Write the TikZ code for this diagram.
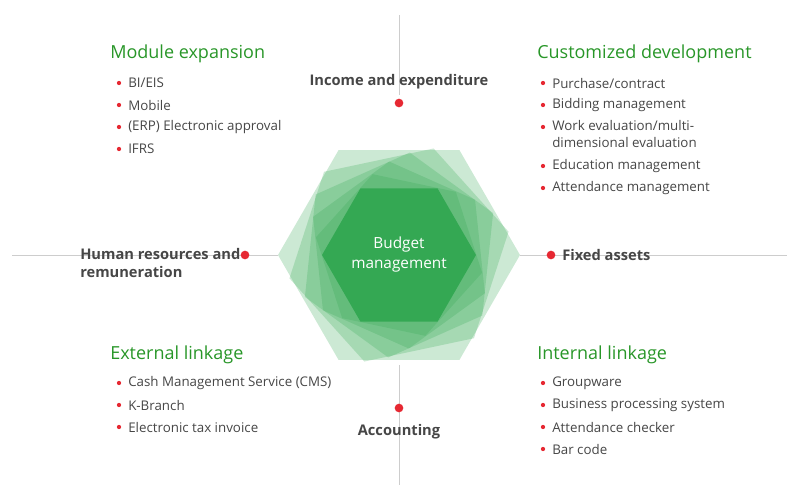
\documentclass[tikz,border=0pt]{standalone}
\usepackage{fontspec}
\setmainfont{Open Sans}
\definecolor{hexgreen}{RGB}{52,168,83}
\definecolor{headgreen}{RGB}{40,150,40}
\definecolor{dotred}{RGB}{230,40,50}
\definecolor{txtgray}{RGB}{70,70,70}
\definecolor{linegray}{RGB}{205,205,205}
\tikzset{
  heading/.style={anchor=west,text=headgreen,font=\fontsize{13.5}{16}\selectfont,inner sep=0pt},
  item/.style={anchor=west,text=txtgray,font=\fontsize{10}{13}\selectfont,inner sep=0pt,align=left},
  spoke/.style={text=txtgray,font=\fontsize{11}{13}\selectfont\bfseries,inner sep=0pt},
  reddot/.style={circle,fill=dotred,inner sep=0pt,minimum size=6.5pt},
  smalldot/.style={circle,fill=dotred,inner sep=0pt,minimum size=3.2pt},
}
\begin{document}
\begin{tikzpicture}[x=0.75pt,y=0.75pt,yscale=-1,xscale=1]
\useasboundingbox (0,0) rectangle (800,500);
%axes
\draw [linegray] (399,15) -- (399,95);
\draw [linegray] (399,365) -- (399,485);
\draw [linegray] (12,255) -- (278,255);
\draw [linegray] (520,255) -- (787,255);
%hexagons
\foreach \r/\a in {121/0,112/-12,103/-24,94/-36,85/-48} {
  \begin{scope}[shift={(399,255)},rotate=\a]
    \fill [hexgreen,fill opacity=0.25] (0:\r) -- (60:\r) -- (120:\r) -- (180:\r) -- (240:\r) -- (300:\r) -- cycle;
  \end{scope}
}
\begin{scope}[shift={(399,255)}]
  \fill [hexgreen] (0:77) -- (60:77) -- (120:77) -- (180:77) -- (240:77) -- (300:77) -- cycle;
\end{scope}
\node (centre) [white,font=\fontsize{11.5}{15}\selectfont,align=center] at (399,255) {Budget\\management};
%spokes
\node (income) [spoke] at (399,82) {Income and expenditure};
\node (incdot) [reddot] at (399,103) {};
\node (accounting) [spoke] at (399,432) {Accounting};
\node (accdot) [reddot] at (399,408) {};
\node (human) [spoke,anchor=west,align=left] at (80,263) {Human resources and\\remuneration};
\node (humdot) [reddot] at (245,255) {};
\node (fixed) [spoke,anchor=west] at (562,255) {Fixed assets};
\node (fixdot) [reddot] at (551,255) {};
%headings
\node (modexp) [heading] at (110,54) {Module expansion};
\node (custdev) [heading] at (537,54) {Customized development};
\node (extlink) [heading] at (110,355) {External linkage};
\node (intlink) [heading] at (537,355) {Internal linkage};
%lists
\foreach \y/\t in {83/{BI/EIS},105/Mobile,127/(ERP) Electronic approval,149/IFRS} {
  \node [smalldot] at (119,\y) {};
  \node [item] at (128,\y) {\t};
}
\foreach \y/\t in {83/{Purchase/contract},105/Bidding management,166/Education management,188/Attendance management} {
  \node [smalldot] at (543,\y) {};
  \node [item] at (552,\y) {\t};
}
\node [smalldot] at (543,127) {};
\node [item,anchor=north west] at (552,120) {Work evaluation/multi-\\dimensional evaluation};
\foreach \y/\t in {383/Cash Management Service (CMS),405/K-Branch,427/Electronic tax invoice} {
  \node [smalldot] at (119,\y) {};
  \node [item] at (128,\y) {\t};
}
\foreach \y/\t in {383/Groupware,405/Business processing system,427/Attendance checker,449/Bar code} {
  \node [smalldot] at (543,\y) {};
  \node [item] at (552,\y) {\t};
}
\end{tikzpicture}
\end{document}
